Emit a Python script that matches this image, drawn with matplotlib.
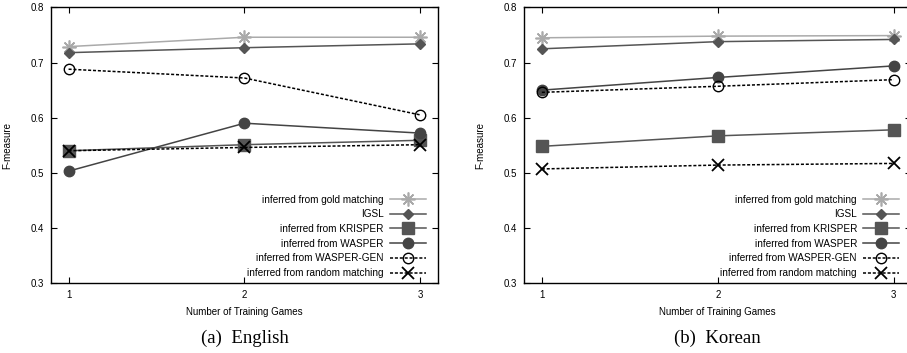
import matplotlib
matplotlib.use("Agg")
import matplotlib.pyplot as plt

games = [1, 2, 3]

# English
en_gold = [0.729, 0.746, 0.746]
en_igsl = [0.718, 0.727, 0.734]
en_krisper = [0.540, 0.551, 0.559]
en_wasper = [0.503, 0.590, 0.572]
en_wasper_gen = [0.688, 0.672, 0.605]
en_random = [0.540, 0.546, 0.551]

# Korean
ko_gold = [0.745, 0.748, 0.749]
ko_igsl = [0.725, 0.738, 0.742]
ko_krisper = [0.548, 0.567, 0.578]
ko_wasper = [0.650, 0.673, 0.694]
ko_wasper_gen = [0.646, 0.657, 0.669]
ko_random = [0.507, 0.514, 0.517]

labels = ["inferred from gold matching", "IGSL", "inferred from KRISPER",
          "inferred from WASPER", "inferred from WASPER-GEN",
          "inferred from random matching"]
captions = ["(a)  English", "(b)  Korean"]

styles = [
    dict(color="#aaaaaa", marker=(8, 2, 0), ms=10, mew=1.2, ls="-"),
    dict(color="#555555", marker="D", ms=5.5, ls="-"),
    dict(color="#555555", marker="s", ms=8, ls="-"),
    dict(color="#444444", marker="o", ms=7.5, ls="-"),
    dict(color="black", marker="o", ms=7.5, mfc="none", mew=1.0, ls=(0, (2, 1.2))),
    dict(color="black", marker="x", ms=8.5, mew=1.3, ls=(0, (2, 1.2))),
]

plt.rcParams["font.family"] = ["Liberation Sans", "DejaVu Sans"]

fig = plt.figure(figsize=(9.07, 3.53), dpi=100)
panels = [
    ([0.0562, 0.1983, 0.4267, 0.7805],
     [en_gold, en_igsl, en_krisper, en_wasper, en_wasper_gen, en_random]),
    ([0.578, 0.1983, 0.4267, 0.7805],
     [ko_gold, ko_igsl, ko_krisper, ko_wasper, ko_wasper_gen, ko_random]),
]

for i, (rect, series) in enumerate(panels):
    ax = fig.add_axes(rect)
    for vals, lab, st in zip(series, labels, styles):
        ax.plot(games, vals, label=lab, lw=1.1, **st)
    ax.set_xlim(0.9, 3.1)
    ax.set_ylim(0.3, 0.8)
    ax.set_xticks(games)
    ax.set_yticks([0.3, 0.4, 0.5, 0.6, 0.7, 0.8])
    ax.set_yticklabels(["0.3", "0.4", "0.5", "0.6", "0.7", "0.8"])
    ax.tick_params(direction="in", top=True, right=True, labelsize=7,
                   length=4, width=0.8, pad=5)
    for sp in ax.spines.values():
        sp.set_linewidth(1.0)
    ax.set_xlabel("Number of Training Games", fontsize=7, labelpad=5)
    ax.set_ylabel("F-measure", fontsize=7, labelpad=13)
    ax.legend(loc="lower right", frameon=False, markerfirst=False,
              fontsize=7.2, handlelength=3.6, labelspacing=0.47,
              handletextpad=0.6, borderaxespad=0.0, borderpad=0.3,
              bbox_to_anchor=(0.976, 0.007))
    ax.text(0.5, -0.2, captions[i], transform=ax.transAxes, ha="center",
            va="center", fontsize=13.5, family=["Liberation Serif", "DejaVu Serif"])

fig.savefig("out.png", dpi=100)
